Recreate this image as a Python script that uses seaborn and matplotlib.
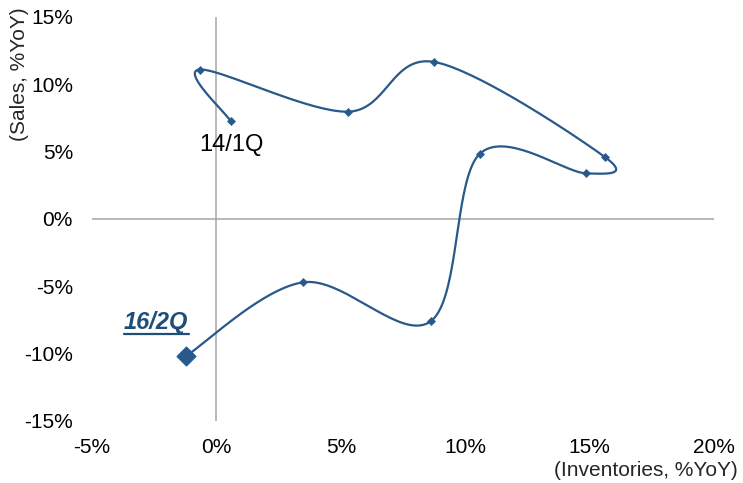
import numpy as np
import pandas as pd
import matplotlib
matplotlib.use("Agg")
import matplotlib.pyplot as plt
import seaborn as sns

# Data (quarters from 14/1Q to 16/2Q)
inventories = [0.57, -0.67, 5.30, 8.76, 15.63, 14.85, 10.58, 8.61, 3.49, -1.23]
sales = [7.28, 11.10, 7.97, 11.66, 4.58, 3.39, 4.83, -7.60, -4.70, -10.19]
x_ticks = [-5, 0, 5, 10, 15, 20]
y_ticks = [-15, -10, -5, 0, 5, 10, 15]
first_label = "14/1Q"
last_label = "16/2Q"

COLOR = "#28598A"

sns.set_theme(style="white")
plt.rcParams['font.family'] = ['Liberation Sans', 'DejaVu Sans']

fig = plt.figure(figsize=(7.43, 4.83), dpi=100)
ax = fig.add_axes([92/743, 1-421/483, (714-92)/743, (421-17)/483])
ax.set_xlim(-5, 20)
ax.set_ylim(-15, 15)

# Smoothed line (Excel-like Catmull-Rom Bezier), computed in display-proportional space
sx, sy = 24.9, 13.47
P = np.column_stack([np.array(inventories) * sx, np.array(sales) * sy])
n = len(P)
curve = []
t = np.linspace(0, 1, 40)
for i in range(n - 1):
    p0 = P[i - 1] if i > 0 else P[i]
    p1 = P[i]
    p2 = P[i + 1]
    p3 = P[i + 2] if i + 2 < n else P[i + 1]
    c1 = p1 + (p2 - p0) / 6
    c2 = p2 - (p3 - p1) / 6
    seg = ((1 - t)**3)[:, None] * p1 + (3 * (1 - t)**2 * t)[:, None] * c1 \
        + (3 * (1 - t) * t**2)[:, None] * c2 + (t**3)[:, None] * p2
    curve.append(seg if i == 0 else seg[1:])
curve = np.vstack(curve)
df_curve = pd.DataFrame({"x": curve[:, 0] / sx, "y": curve[:, 1] / sy})

ax.axhline(0, color="#A6A6A6", lw=1.1, zorder=1)
ax.axvline(0, color="#A6A6A6", lw=1.1, zorder=1)

sns.lineplot(data=df_curve, x="x", y="y", sort=False, estimator=None,
             color=COLOR, lw=1.6, ax=ax, zorder=3)
df_pts = pd.DataFrame({"x": inventories[:-1], "y": sales[:-1]})
sns.scatterplot(data=df_pts, x="x", y="y", marker="D", s=18, color=COLOR,
                edgecolor=COLOR, ax=ax, zorder=4)
ax.scatter([inventories[-1]], [sales[-1]], marker="D", s=90, color=COLOR,
           edgecolor=COLOR, zorder=5)

ax.text(0.6, 5.49, first_label, fontsize=17,
        color="black", ha="center", va="center")
ax.text(-2.43, -7.72, last_label, fontsize=17,
        color="#1F4E79", ha="center", va="center", fontweight="bold",
        fontstyle="italic")
# underline for 16/2Q
ax.plot([-3.73, -1.12], [-8.54, -8.54], color="#1F4E79", lw=1.6, zorder=5)

ax.set_xticks(x_ticks)
ax.set_yticks(y_ticks)
ax.set_xticklabels([f"{v}%" for v in x_ticks], fontsize=15)
ax.set_yticklabels([f"{v}%" for v in y_ticks], fontsize=15)
ax.tick_params(axis="y", length=0, pad=13.7, colors="black")
ax.tick_params(axis="x", length=0, pad=12.5, colors="black")
for s in ax.spines.values():
    s.set_visible(False)
ax.set_xlabel("")
ax.set_ylabel("")
ax.grid(False)

fig.text(20/743, 1-74/483, "(Sales, %YoY)", rotation=90, fontsize=15,
         ha="center", va="center")
fig.text(738/743, 1-470/483, "(Inventories, %YoY)", fontsize=15,
         ha="right", va="center")

fig.savefig("out.png", dpi=100)
